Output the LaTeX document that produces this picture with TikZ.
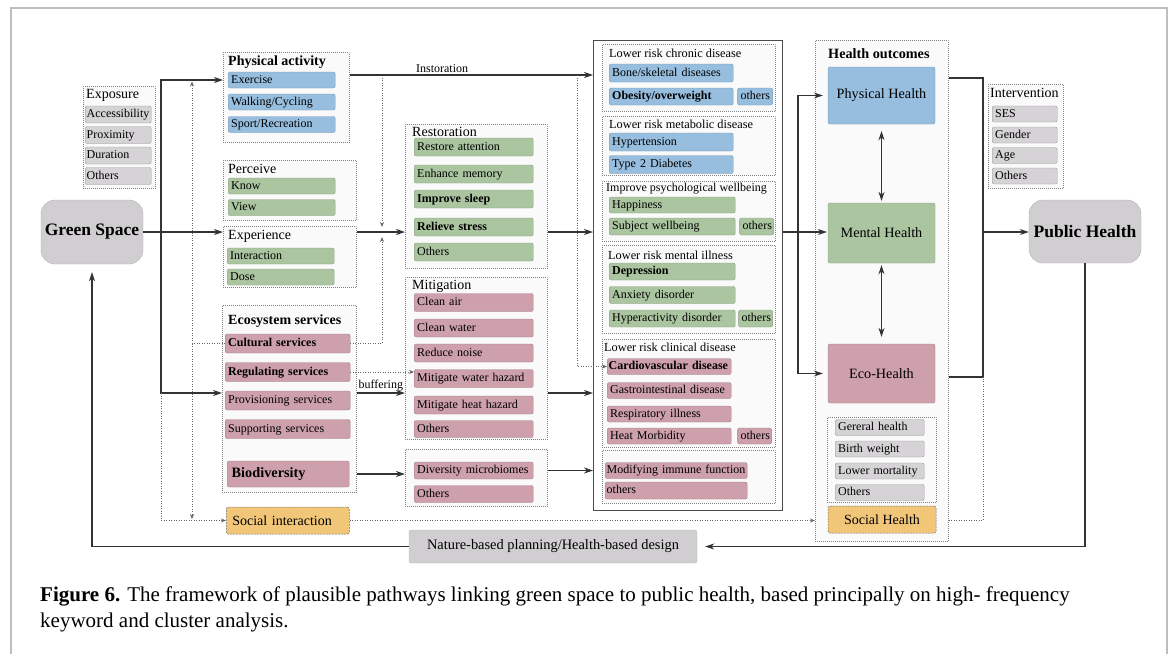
\documentclass[tikz,border=0pt]{standalone}
\usepackage{fontspec}
\setmainfont{Liberation Serif}
\usepackage{xcolor}
\usetikzlibrary{positioning, arrows.meta}

\definecolor{cellblue}{RGB}{151,190,222}
\definecolor{cellgreen}{RGB}{170,197,160}
\definecolor{cellpink}{RGB}{205,160,171}
\definecolor{cellgray}{RGB}{213,211,213}
\definecolor{cellorange}{RGB}{241,198,121}
\definecolor{hubgray}{RGB}{208,206,208}
\definecolor{framegray}{RGB}{190,190,190}

\begin{document}
\begin{tikzpicture}[
  x=1pt, y=-1pt,
  font=\fontsize{12}{14}\selectfont,
  grp/.style={draw=black!50, line width=0.6pt, dash pattern=on 0.8pt off 1.2pt, fill=black!2, inner sep=0pt, anchor=north west},
  ttl/.style={anchor=west, inner sep=0pt, font=\fontsize{14}{16}\selectfont},
  subttl/.style={anchor=west, inner sep=0pt, font=\fontsize{12.3}{14}\selectfont},
  cell/.style={rounded corners=2pt, anchor=west, inner xsep=3pt, inner ysep=0pt, minimum height=17pt, text height=8.5pt, text depth=2.5pt, align=left, line width=0.4pt, font=\fontsize{12}{14}\selectfont},
  strong/.style={font=\bfseries\fontsize{12}{14}\selectfont},
  blue cell/.style={cell, fill=cellblue, draw=cellblue!80!black, text width=#1},
  green cell/.style={cell, fill=cellgreen, draw=cellgreen!80!black, text width=#1},
  pink cell/.style={cell, fill=cellpink, draw=cellpink!80!black, text width=#1},
  gray cell/.style={cell, fill=cellgray, draw=black!40, text width=#1},
  outcome/.style={rounded corners=2pt, minimum width=107pt, font=\fontsize{14.2}{16}\selectfont},
  hub/.style={draw=black!30, fill=hubgray, rounded corners=14pt, font=\bfseries\fontsize{17.5}{20}\selectfont},
  social/.style={draw=black!55, dash pattern=on 2pt off 1pt, line width=0.5pt, fill=cellorange, rounded corners=2pt, font=\fontsize{14}{16}\selectfont},
  ln/.style={line width=1.1pt, draw=black!80},
  arrow/.style={ln, -{Stealth[length=9pt, width=6pt]}},
  dblarrow/.style={ln, {Stealth[length=9pt, width=6pt]}-{Stealth[length=9pt, width=6pt]}},
  dotline/.style={line width=0.9pt, draw=black!60, dash pattern=on 1pt off 1.5pt},
  dotarrow/.style={dotline, -{Stealth[length=5pt, width=4pt]}}
]
\useasboundingbox (0,0) rectangle (1173,654);

% page frame
\draw[framegray, line width=1.5pt] (11,654) -- (11,8) -- (1167,8) -- (1167,654);

% Green space and exposure
\node[hub, minimum width=102pt, minimum height=64pt] (gs) at (92,232) {Green Space};
\node[grp, minimum width=72pt, minimum height=102pt] (expog) at (83,86) {};
\node[ttl] (expot) at (86,95) {Exposure};
\node[gray cell=63pt, inner xsep=1.5pt] (acc) at (85,114.5) {Accessibility};
\node[gray cell=63pt, inner xsep=1.5pt] (prox) at (85,135) {Proximity};
\node[gray cell=63pt, inner xsep=1.5pt] (dur) at (85,155.5) {Duration};
\node[gray cell=63pt, inner xsep=1.5pt] (expooth) at (85,176) {Others};

% Physical activity
\node[grp, minimum width=126pt, minimum height=90pt] (pag) at (223,52) {};
\node[ttl, font=\bfseries\fontsize{14}{16}\selectfont] (pat) at (228,62) {Physical activity};
\node[blue cell=101pt, minimum height=16pt] (exer) at (228,80) {Exercise};
\node[blue cell=101pt, minimum height=16pt] (walk) at (228,102) {Walking/Cycling};
\node[blue cell=101pt, minimum height=16pt] (sport) at (228,124.5) {Sport/Recreation};

% Perceive and experience
\node[grp, minimum width=133pt, minimum height=60pt] (perg) at (223,160) {};
\node[ttl] (pert) at (228,169) {Perceive};
\node[green cell=101pt, minimum height=16pt] (know) at (228,186) {Know};
\node[green cell=101pt, minimum height=16pt] (view) at (228,207.5) {View};
\node[grp, minimum width=133pt, minimum height=61pt] (expg) at (223,226) {};
\node[ttl] (expt) at (228,236) {Experience};
\node[green cell=101pt, minimum height=16pt] (inter) at (227,256) {Interaction};
\node[green cell=101pt, minimum height=16pt] (dose) at (227,277) {Dose};

% Ecosystem services
\node[grp, minimum width=134pt, minimum height=187pt] (esg) at (222,305) {};
\node[ttl, font=\bfseries\fontsize{14}{16}\selectfont] (est) at (228,321) {Ecosystem services};
\node[pink cell=119pt, minimum height=19pt, strong] (cult) at (225,343.5) {Cultural services};
\node[pink cell=119pt, minimum height=19pt, strong] (reg) at (225,372) {Regulating services};
\node[pink cell=119pt, minimum height=19pt] (prov) at (225,400.5) {Provisioning services};
\node[pink cell=119pt, minimum height=19pt] (supp) at (225,429) {Supporting services};
\node[pink cell=113pt, minimum height=26pt, inner xsep=4.5pt, text height=10pt, text depth=3pt, font=\bfseries\fontsize{14.3}{16}\selectfont] (bio) at (227,474) {Biodiversity};
\node[social, anchor=west, minimum height=27pt, text width=111pt, inner xsep=6pt, align=left] (soci) at (226,520.5) {Social interaction};

% Restoration
\node[grp, minimum width=142pt, minimum height=144pt] (resg) at (405,124) {};
\node[ttl] (rest) at (412,132) {Restoration};
\node[green cell=113pt, minimum height=18pt] (attn) at (414,147) {Restore attention};
\node[green cell=113pt, minimum height=18pt] (mem) at (414,174) {Enhance memory};
\node[green cell=113pt, minimum height=18pt, strong] (sleep) at (414,199) {Improve sleep};
\node[green cell=113pt, minimum height=18pt, strong] (stress) at (414,227) {Relieve stress};
\node[green cell=113pt, minimum height=18pt] (resoth) at (414,252) {Others};

% Mitigation
\node[grp, minimum width=142pt, minimum height=162pt] (mitg) at (405,277) {};
\node[ttl] (mitt) at (412,286) {Mitigation};
\node[pink cell=113pt, minimum height=18pt] (air) at (414,302.5) {Clean air};
\node[pink cell=113pt, minimum height=18pt] (water) at (414,328) {Clean water};
\node[pink cell=113pt, minimum height=18pt] (noise) at (414,353) {Reduce noise};
\node[pink cell=113pt, minimum height=18pt] (mwh) at (414,378.5) {Mitigate water hazard};
\node[pink cell=113pt, minimum height=18pt] (mhh) at (414,405) {Mitigate heat hazard};
\node[pink cell=113pt, minimum height=17pt] (mitoth) at (414,429) {Others};

% Microbiomes
\node[grp, minimum width=142pt, minimum height=57pt] (divg) at (405,449) {};
\node[pink cell=113pt] (micro) at (414,470.5) {Diversity microbiomes};
\node[pink cell=113pt] (divoth) at (414,494) {Others};

% Disease pathways
\node[draw=black!70, line width=1.2pt, fill=white, minimum width=189pt, minimum height=470pt, inner sep=0pt, anchor=north west] (big) at (593,40) {};

\node[grp, minimum width=173pt, minimum height=67pt] (chrg) at (602,44) {};
\node[subttl] (chrt) at (609,53) {Lower risk chronic disease};
\node[blue cell=118pt, minimum height=18pt] (bone) at (609,73) {Bone/skeletal diseases};
\node[blue cell=118pt, strong] (obes) at (609,96.5) {Obesity/overweight};
\node[blue cell=29pt, right=4pt of obes] (choth) {others};

\node[grp, minimum width=173pt, minimum height=59pt] (metg) at (602,116) {};
\node[subttl] (mett) at (609,124) {Lower risk metabolic disease};
\node[blue cell=118pt, minimum height=18pt] (hyper) at (609,142) {Hypertension};
\node[blue cell=118pt, minimum height=18pt] (diab) at (609,164.5) {Type 2 Diabetes};

\node[grp, minimum width=173pt, minimum height=60pt] (psyg) at (602,181) {};
\node[subttl, font=\fontsize{12}{14}\selectfont] (psyt) at (606,189) {Improve psychological wellbeing};
\node[green cell=120pt, minimum height=16pt] (happy) at (609,205) {Happiness};
\node[green cell=120pt] (subj) at (609,226.5) {Subject wellbeing};
\node[green cell=28pt, right=4pt of subj] (psyoth) {others};

\node[grp, minimum width=173pt, minimum height=88pt] (meng) at (602,245) {};
\node[subttl] (ment) at (608,255) {Lower risk mental illness};
\node[green cell=120pt, strong] (dep) at (609,271.5) {Depression};
\node[green cell=120pt] (anx) at (609,295) {Anxiety disorder};
\node[green cell=120pt] (hyp) at (609,318.5) {Hyperactivity disorder};
\node[green cell=28pt, right=3pt of hyp] (menoth) {others};

\node[grp, minimum width=173pt, minimum height=108pt] (clig) at (602,339) {};
\node[subttl] (clit) at (604,347) {Lower risk clinical disease};
\node[pink cell=121pt, inner xsep=1.5pt, minimum height=16pt, strong] (cardio) at (607,366.5) {Cardiovascular disease};
\node[pink cell=118pt, minimum height=16pt] (gastro) at (607,390.5) {Gastrointestinal disease};
\node[pink cell=118pt, minimum height=16pt] (resp) at (607,414) {Respiratory illness};
\node[pink cell=118pt, minimum height=16pt] (heat) at (607,436) {Heat Morbidity};
\node[pink cell=28pt, minimum height=16pt, right=6pt of heat] (clioth) {others};

\node[grp, minimum width=173pt, minimum height=53pt] (immg) at (602,450) {};
\node[pink cell=139pt, inner xsep=1.5pt, minimum height=16pt] (immu) at (605,470.5) {Modifying immune function};
\node[pink cell=139pt, inner xsep=1.5pt] (immoth) at (605,490.5) {others};

% Health outcomes
\node[grp, minimum width=133pt, minimum height=501pt] (hog) at (815,40) {};
\node[ttl, font=\bfseries\fontsize{14.2}{16}\selectfont] (hot) at (828,54) {Health outcomes};
\node[outcome, fill=cellblue, draw=cellblue!80!black, minimum height=57pt] (phys) at (881.5,95.5) {Physical Health};
\node[outcome, fill=cellgreen, draw=cellgreen!80!black, minimum height=60pt] (menh) at (881.5,233) {Mental Health};
\node[outcome, fill=cellpink, draw=cellpink!80!black, minimum height=59pt] (ecoh) at (881.5,373.5) {Eco-Health};
\node[grp, minimum width=109pt, minimum height=85pt] (indg) at (827,417) {};
\node[gray cell=83pt, minimum height=16pt] (gen) at (835,427.5) {Gereral health};
\node[gray cell=83pt, minimum height=16pt] (birth) at (835,449) {Birth weight};
\node[gray cell=83pt, minimum height=16pt] (mort) at (835,471) {Lower mortality};
\node[gray cell=83pt, minimum height=16pt] (indoth) at (835,492.5) {Others};
\node[social, minimum width=108pt, minimum height=27pt] (sochl) at (882,519.5) {Social Health};

% Intervention and public health
\node[grp, minimum width=75pt, minimum height=104pt] (intg) at (988,84) {};
\node[ttl] (intt) at (990,93) {Intervention};
\node[gray cell=59pt, minimum height=16pt] (ses) at (992,114) {SES};
\node[gray cell=59pt, minimum height=16pt] (gend) at (992,135) {Gender};
\node[gray cell=59pt, minimum height=16pt] (age) at (992,155.5) {Age};
\node[gray cell=59pt, minimum height=16pt] (intoth) at (992,176) {Others};
\node[hub, minimum width=112pt, minimum height=63pt] (pubh) at (1085,231.5) {Public Health};

% Planning feedback
\node[fill=hubgray, draw=black!25, rounded corners=2pt, minimum width=288pt, minimum height=33pt, font=\fontsize{14.4}{16}\selectfont] (nbd) at (553,546.5) {Nature-based planning/Health-based design};

% Junctions
\coordinate (split) at (161,232);
\coordinate (lowline) at (161,393);
\coordinate (cl) at (192,343.5);
\coordinate (rj) at (382,232);
\coordinate (ij) at (382,75);
\coordinate (cj) at (577,75);
\coordinate (hj) at (798,232);
\coordinate (pj) at (983,232);
\coordinate (yphys) at (0,78);
\coordinate (yeco) at (0,377);

% Arrows
\draw[arrow] (gs.east) -- (gs.east -| expg.west);
\draw[arrow] (split) |- (pag.west |- exer);
\draw[arrow] (split) -- (lowline) -- (lowline -| esg.west);
\draw[dotarrow] (lowline) |- (soci.west);
\draw[dotline] (cult.west) -- (cl);
\draw[dotarrow, shorten >=1.5pt] (cl) -- (cl |- exer);
\draw[dotarrow, shorten >=1.5pt] (cl) -- (cl |- soci);
\draw[dotarrow, shorten >=5pt] (cult.east) -| (rj);
\draw[dotarrow, shorten >=5pt] (ij) -- (rj);
\draw[arrow] (pag.east |- ij) -- node[pos=0.38, above, inner sep=1.5pt] (instl) {Instoration} (big.west |- ij);
\draw[dotarrow] (cj) |- (cardio.west);
\draw[arrow] (expg.east |- gs.east) -- (resg.west |- gs.east);
\draw[arrow] (resg.east |- gs.east) -- (big.west |- gs.east);
\draw[dotarrow] (reg.east) -- (reg.east -| mwh.west);
\draw[arrow] (esg.east |- lowline) -- node[above, inner sep=1.5pt] (bufl) {buffering} (mitg.west |- lowline);
\draw[arrow] (mitg.east |- lowline) -- (big.west |- lowline);
\draw[arrow] (esg.east |- bio) -- (divg.west |- bio);
\draw[arrow] (divg.east |- micro) -- (big.west |- micro);
\draw[dotarrow] (soci.east) -- (soci.east -| hog.west);

\draw[ln] (big.east |- gs.east) -- (hj);
\draw[arrow, shorten >=5pt] (hj) |- (phys.west);
\draw[arrow, shorten >=1pt] (hj) -- (hj -| menh.west);
\draw[arrow, shorten >=5pt] (hj) |- (ecoh.west);
\draw[dblarrow, shorten <=7pt, shorten >=2pt] (phys.south) -- (menh.north);
\draw[dblarrow, shorten <=2pt, shorten >=7pt] (menh.south) -- (ecoh.north);

\draw[ln] (hog.east |- yphys) -| (pj);
\draw[ln] (hog.east |- yeco) -| (pj);
\draw[dotline] (hog.east |- soci) -| (pj |- yeco);
\draw[arrow] (pj) -- (pj -| pubh.west);

\draw[arrow, shorten >=8pt] (pubh.south) |- (nbd.east);
\draw[arrow, shorten >=8pt] (nbd.west) -| (gs.south);

% Caption
\node[anchor=north west, inner sep=0pt, align=left, font=\fontsize{21}{26}\selectfont] (cap) at (40,587) {\textbf{Figure 6.} The framework of plausible pathways linking green space to public health, based principally on high- frequency\\keyword and cluster analysis.};
\end{tikzpicture}
\end{document}
